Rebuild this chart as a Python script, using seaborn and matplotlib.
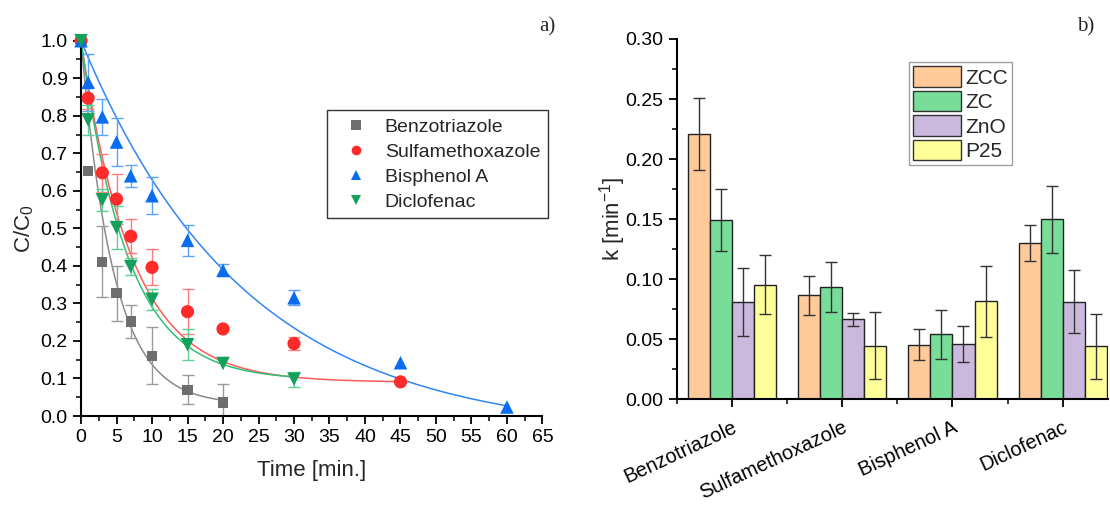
import numpy as np
import pandas as pd
import matplotlib
matplotlib.use("Agg")
import matplotlib.pyplot as plt
from matplotlib.ticker import MultipleLocator, FormatStrFormatter
from matplotlib.lines import Line2D
from matplotlib.patches import Patch
import seaborn as sns

sns.set_theme(style="ticks")
plt.rcParams["font.family"] = ["Liberation Sans", "DejaVu Sans"]
plt.rcParams["mathtext.fontset"] = "custom"
plt.rcParams["mathtext.rm"] = "Liberation Sans"
plt.rcParams["mathtext.it"] = "Liberation Sans:italic"

# ---------------- (a) degradation kinetics ----------------
compounds = ["Benzotriazole", "Sulfamethoxazole", "Bisphenol A", "Diclofenac"]

btz_t = [0, 1, 3, 5, 7, 10, 15, 20]
btz_c = [1.0, 0.653, 0.411, 0.327, 0.252, 0.160, 0.070, 0.036]
btz_e = [0.0, 0.0, 0.094, 0.073, 0.043, 0.076, 0.038, 0.050]

smx_t = [0, 1, 3, 5, 7, 10, 15, 20, 30, 45]
smx_c = [1.0, 0.847, 0.648, 0.578, 0.479, 0.396, 0.278, 0.232, 0.193, 0.091]
smx_e = [0.0, 0.030, 0.050, 0.066, 0.045, 0.048, 0.060, 0.0, 0.018, 0.0]

bpa_t = [0, 1, 3, 5, 7, 10, 15, 20, 30, 45, 60]
bpa_c = [1.0, 0.889, 0.797, 0.730, 0.640, 0.587, 0.468, 0.388, 0.315, 0.142, 0.024]
bpa_e = [0.0, 0.075, 0.048, 0.063, 0.030, 0.050, 0.042, 0.016, 0.020, 0.0, 0.0]

dcf_t = [0, 1, 3, 5, 7, 10, 15, 20, 30]
dcf_c = [1.0, 0.789, 0.576, 0.502, 0.398, 0.311, 0.190, 0.140, 0.098]
dcf_e = [0.0, 0.040, 0.030, 0.057, 0.022, 0.028, 0.042, 0.0, 0.020]

# first-order fits  C/C0 = c_inf + (1 - c_inf) * exp(-k t)
fit_k = [0.220, 0.140, 0.0435, 0.153]
fit_cinf = [0.030, 0.090, -0.050, 0.095]
fit_tmax = [20, 45, 60, 30]

marker_colors = ["#6e6e6e", "#ff2a2a", "#0a6cf0", "#12a05a"]
line_colors = ["#8a8a8a", "#ff5a5a", "#2f86f5", "#2fbf7a"]
err_colors = ["#9a9a9a", "#ff7b7b", "#5aa2fa", "#5ccf95"]
markers = ["s", "o", "^", "v"]
marker_sizes = [55, 90, 95, 95]

# ---------------- (b) rate constants ----------------
catalysts = ["ZCC", "ZC", "ZnO", "P25"]
k_zcc = [0.221, 0.0865, 0.0455, 0.130]
k_zc = [0.1495, 0.0935, 0.054, 0.150]
k_zno = [0.081, 0.0665, 0.0458, 0.0814]
k_p25 = [0.0953, 0.0447, 0.0817, 0.0443]
e_zcc = [0.030, 0.0165, 0.0127, 0.015]
e_zc = [0.026, 0.0205, 0.0205, 0.028]
e_zno = [0.0285, 0.0055, 0.015, 0.026]
e_p25 = [0.0245, 0.028, 0.0295, 0.027]
bar_colors = ["#ffca99", "#77dd98", "#cbb9dd", "#ffff99"]

fig = plt.figure(figsize=(11.1, 5.05), dpi=100)
ax1 = fig.add_axes([0.073, 0.1762, 0.4157, 0.7432])
ax2 = fig.add_axes([0.6096, 0.2093, 0.3886, 0.7135])

series = [(btz_t, btz_c, btz_e), (smx_t, smx_c, smx_e),
          (bpa_t, bpa_c, bpa_e), (dcf_t, dcf_c, dcf_e)]

rows = []
for name, (t, c, e) in zip(compounds, series):
    for ti, ci, ei in zip(t, c, e):
        rows.append({"compound": name, "t": ti, "c": ci, "err": ei})
kin = pd.DataFrame(rows)

fit_rows = []
for name, k, cinf, tmax in zip(compounds, fit_k, fit_cinf, fit_tmax):
    tt = np.linspace(0, tmax, 300)
    for ti in tt:
        fit_rows.append({"compound": name, "t": ti,
                         "c": cinf + (1 - cinf) * np.exp(-k * ti)})
fits = pd.DataFrame(fit_rows)

sns.lineplot(data=fits, x="t", y="c", hue="compound", hue_order=compounds,
             palette=line_colors, linewidth=1.1, legend=False, ax=ax1,
             sort=False, estimator=None)

for i, name in enumerate(compounds):
    d = kin[(kin.compound == name) & (kin.err > 0)]
    ax1.errorbar(d.t, d.c, yerr=d.err, fmt="none", ecolor=err_colors[i],
                 elinewidth=1.0, capsize=4, capthick=1.0, zorder=2)

sns.scatterplot(data=kin, x="t", y="c", hue="compound", style="compound",
                hue_order=compounds, style_order=compounds,
                palette=marker_colors, markers=dict(zip(compounds, markers)),
                size="compound", sizes=dict(zip(compounds, marker_sizes)),
                edgecolor="none", legend=False, ax=ax1, zorder=3, clip_on=False)

ax1.set_xlim(0, 65)
ax1.set_ylim(0, 1.0)
ax1.xaxis.set_major_locator(MultipleLocator(5))
ax1.xaxis.set_minor_locator(MultipleLocator(2.5))
ax1.yaxis.set_major_locator(MultipleLocator(0.1))
ax1.yaxis.set_minor_locator(MultipleLocator(0.05))
ax1.yaxis.set_major_formatter(FormatStrFormatter("%.1f"))
ax1.set_xlabel("Time [min.]", fontsize=16, labelpad=10)
ax1.set_ylabel("C/C$_0$", fontsize=16, labelpad=3)
for s in ["top", "right"]:
    ax1.spines[s].set_visible(False)

handles = [Line2D([], [], linestyle="none", marker=m, color=c, markersize=7,
                  markeredgewidth=0)
           for m, c in zip(markers, marker_colors)]
leg1 = ax1.legend(handles, compounds, loc="upper left",
                  bbox_to_anchor=(0.532, 0.815), fontsize=14, frameon=True,
                  fancybox=False, edgecolor="black", handlelength=2.2,
                  handletextpad=0.4, labelspacing=0.38, borderpad=0.4,
                  borderaxespad=0)
leg1.get_frame().set_linewidth(1.0)

# ---------------- bars ----------------
k_cols = [k_zcc, k_zc, k_zno, k_p25]
e_cols = [e_zcc, e_zc, e_zno, e_p25]
brows = []
for cat, ks in zip(catalysts, k_cols):
    for comp, kv in zip(compounds, ks):
        brows.append({"compound": comp, "catalyst": cat, "k": kv})
rates = pd.DataFrame(brows)

sns.barplot(data=rates, x="compound", y="k", hue="catalyst",
            order=compounds, hue_order=catalysts, palette=bar_colors,
            errorbar=None, width=0.8, edgecolor="#222222", linewidth=1.0,
            saturation=1, legend=False, ax=ax2)

for cont, errs in zip(ax2.containers, e_cols):
    xs = [b.get_x() + b.get_width() / 2 for b in cont]
    ys = [b.get_height() for b in cont]
    ax2.errorbar(xs, ys, yerr=errs, fmt="none", ecolor="#333333",
                 elinewidth=1.0, capsize=4, capthick=1.0, zorder=4)

ax2.set_xlim(-0.5, 3.41)
ax2.set_ylim(0, 0.30)
ax2.yaxis.set_major_locator(MultipleLocator(0.05))
ax2.yaxis.set_minor_locator(MultipleLocator(0.025))
ax2.xaxis.set_minor_locator(MultipleLocator(0.5))
ax2.yaxis.set_major_formatter(FormatStrFormatter("%.2f"))
ax2.set_xlabel("")
ax2.set_ylabel("k [min$^{-1}$]", fontsize=16, labelpad=-2)
for s in ["top", "right"]:
    ax2.spines[s].set_visible(False)

phandles = [Patch(facecolor=c, edgecolor="#333333", linewidth=1.0)
            for c in bar_colors]
leg2 = ax2.legend(phandles, catalysts, loc="upper left",
                  bbox_to_anchor=(0.539, 0.936), fontsize=15, frameon=True,
                  fancybox=False, edgecolor="#888888", handlelength=2.3,
                  handleheight=1.15, handletextpad=0.2, labelspacing=0.15,
                  borderpad=0.2, borderaxespad=0)
leg2.get_frame().set_linewidth(1.0)

for ax in (ax1, ax2):
    for s in ["left", "bottom"]:
        ax.spines[s].set_linewidth(1.5)
        ax.spines[s].set_color("black")
    ax.tick_params(which="major", direction="out", length=6, width=1.3,
                   colors="black", labelsize=14)
    ax.tick_params(which="minor", direction="out", length=3.5, width=1.1,
                   colors="black")
ax2.tick_params(axis="x", which="major", pad=7)
plt.setp(ax2.get_xticklabels(), rotation=25, ha="right",
         rotation_mode="anchor", fontsize=14.5)

fig.text(0.486, 0.947, "a)", fontsize=15, family="Liberation Serif",
         ha="left", va="center")
fig.text(0.970, 0.947, "b)", fontsize=15, family="Liberation Serif",
         ha="left", va="center")

fig.savefig("out.png", dpi=100, facecolor="white")
